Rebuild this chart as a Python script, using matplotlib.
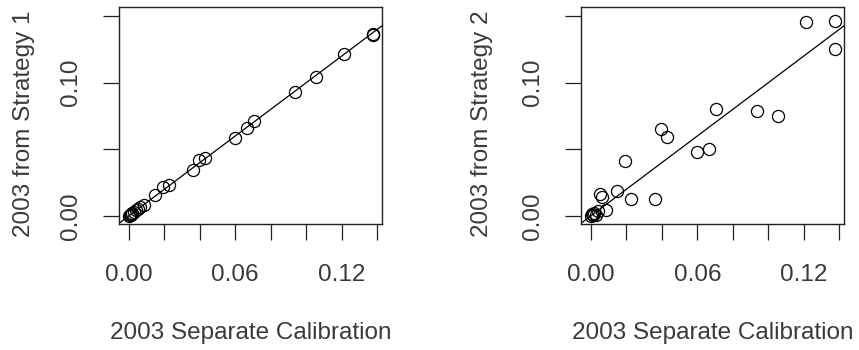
import matplotlib
matplotlib.use('Agg')
import matplotlib.pyplot as plt

# 2003 separate calibration (x) shared by both panels
sep_calib = [0.1375, 0.1378, 0.1212, 0.1056, 0.0935, 0.0705, 0.0667, 0.0596,
             0.0432, 0.0398, 0.0363, 0.0228, 0.0192, 0.0150,
             0.0085, 0.0065, 0.0052, 0.0042, 0.0030, 0.0020, 0.0015, 0.0010,
             0.0005, 0.0000]
strategy1 = [0.1360, 0.1366, 0.1215, 0.1045, 0.0933, 0.0713, 0.0658, 0.0588,
             0.0433, 0.0420, 0.0345, 0.0233, 0.0220, 0.0155,
             0.0082, 0.0066, 0.0053, 0.0042, 0.0030, 0.0020, 0.0016, 0.0010,
             0.0005, 0.0000]
strategy2 = [0.1465, 0.1253, 0.1455, 0.0753, 0.0788, 0.0800, 0.0503, 0.0480,
             0.0593, 0.0650, 0.0130, 0.0125, 0.0413, 0.0188,
             0.0043, 0.0140, 0.0163, 0.0035, 0.0010, 0.0020, 0.0008, 0.0005,
             0.0012, 0.0000]

x_ticks = [0.00, 0.02, 0.04, 0.06, 0.08, 0.10, 0.12, 0.14]
x_labels = ['0.00', '', '', '0.06', '', '', '0.12', '']
y_ticks = [0.00, 0.05, 0.10, 0.15]
y_labels = ['0.00', '', '0.10', '']

plt.rcParams['font.family'] = ['Liberation Sans', 'DejaVu Sans']
txt = '#3a3a3a'

fig = plt.figure(figsize=(8.59, 3.5), dpi=100)
panels = [(0.1385, strategy1, '2003 from Strategy 1', -0.36),
          (0.6764, strategy2, '2003 from Strategy 2', -0.378)]

for left, ys, ylab, ylab_x in panels:
    ax = fig.add_axes([left, 0.36, 0.3062, 0.62])
    ax.plot(sep_calib, ys, 'o', mfc='none', mec='black', ms=8.7, mew=0.9)
    # 1:1 reference line
    ax.axline((0, 0), slope=1, color='black', lw=0.9)
    ax.set_xlim(-0.0055, 0.1427)
    ax.set_ylim(-0.006, 0.1568)
    ax.set_xticks(x_ticks)
    ax.set_xticklabels(x_labels)
    ax.set_yticks(y_ticks)
    ax.set_yticklabels(y_labels, rotation=90, va='center')
    ax.tick_params(direction='out', length=11.5, width=0.9, labelsize=17.5,
                   labelcolor=txt, color='#222222')
    ax.tick_params(axis='x', pad=17)
    ax.tick_params(axis='y', pad=15)
    for s in ax.spines.values():
        s.set_linewidth(1.0)
        s.set_color('#222222')
    ax.set_xlabel('2003 Separate Calibration', fontsize=17.5, color=txt)
    ax.xaxis.set_label_coords(0.5, -0.50)
    ax.xaxis.label.set_va('center')
    ax.set_ylabel(ylab, fontsize=17.5, color=txt)
    ax.yaxis.set_label_coords(ylab_x, 0.46)
    ax.yaxis.label.set_va('center')

fig.savefig('out.png', dpi=100)
